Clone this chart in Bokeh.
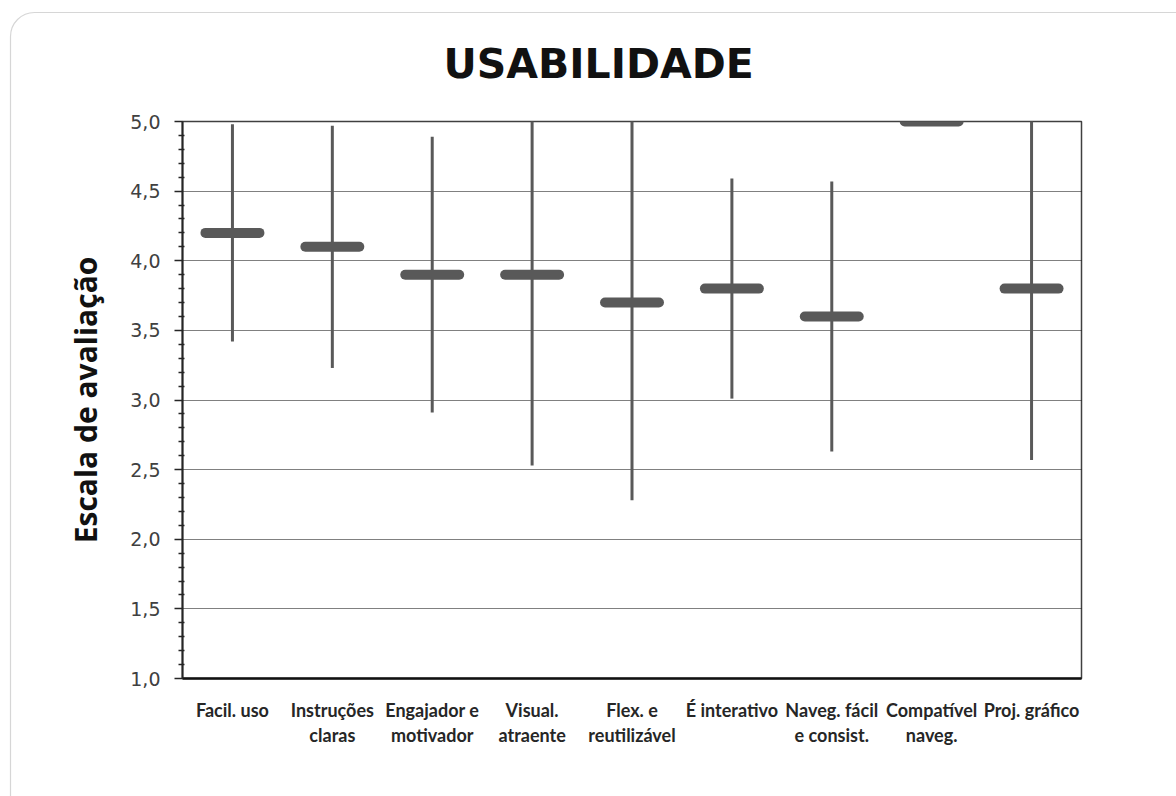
from bokeh.plotting import figure
from bokeh.models import FactorRange, Range1d, FixedTicker, CustomJSTickFormatter, Title, ColumnDataSource
from bokeh.transform import dodge
from bokeh.embed import file_html
from bokeh.resources import INLINE

# ---- data ----
categories = ["Facil. uso", "Instruções\nclaras", "Engajador e\nmotivador", "Visual.\natraente",
              "Flex. e\nreutilizável", "É interativo", "Naveg. fácil\ne consist.", "Compatível\nnaveg.",
              "Proj. gráfico"]
means = [4.2, 4.1, 3.9, 3.9, 3.7, 3.8, 3.6, 5.0, 3.8]
deviations = [0.78, 0.87, 0.99, 1.37, 1.42, 0.79, 0.97, 0.0, 1.23]
y_ticks = [1.0, 1.5, 2.0, 2.5, 3.0, 3.5, 4.0, 4.5, 5.0]
title_text = "USABILIDADE"
y_label = "Escala de avaliação"

lows = [m - d for m, d in zip(means, deviations)]
highs = [m + d for m, d in zip(means, deviations)]
src = ColumnDataSource(dict(cat=categories, mean=means, low=lows, high=highs))

box_svg = ("url(\"data:image/svg+xml;utf8,<svg xmlns='http://www.w3.org/2000/svg' width='1176' height='796'>"
           "<rect x='10.5' y='12.5' width='1240' height='860' rx='24' ry='24' fill='white' "
           "stroke='%23d6d6d6' stroke-width='1.2'/></svg>\") no-repeat, #ffffff")

p = figure(width=1176, height=796, output_backend="svg", toolbar_location=None,
           x_range=FactorRange(factors=categories, range_padding=0),
           y_range=Range1d(1.0, 5.0),
           min_border_left=182, min_border_right=95, min_border_top=121, min_border_bottom=118,
           styles={"background": box_svg})
p.x_range.factor_padding = 0
p.border_fill_color = None
p.background_fill_color = "#ffffff"

p.outline_line_color = "#404040"
p.outline_line_width = 1.5

# title
p.title = Title(text=title_text, align="left", offset=261, standoff=68, vertical_align="bottom",
                text_font="DejaVu Sans", text_font_size="41px", text_font_style="bold",
                text_color="#111111")

# grid
p.xgrid.grid_line_color = None
p.ygrid.grid_line_color = "#000000"
p.ygrid.grid_line_dash = "1 1"
p.ygrid.grid_line_width = 1

# y axis
minor = [round(1 + 0.1 * i, 1) for i in range(41) if i % 5]
p.yaxis.ticker = FixedTicker(ticks=y_ticks, minor_ticks=minor)
p.yaxis.formatter = CustomJSTickFormatter(code="return tick.toFixed(1).replace('.', ',');")
p.yaxis.major_label_text_font = "DejaVu Sans"
p.yaxis.major_label_text_font_size = "19px"
p.yaxis.major_label_text_color = "#404040"
p.yaxis.major_label_standoff = 14
p.yaxis.axis_line_color = "#262626"
p.yaxis.axis_line_width = 2
p.yaxis.major_tick_line_color = "#262626"
p.yaxis.major_tick_line_width = 1.5
p.yaxis.major_tick_out = 8
p.yaxis.major_tick_in = 0
p.yaxis.minor_tick_line_color = "#262626"
p.yaxis.minor_tick_line_width = 1.5
p.yaxis.minor_tick_out = 4
p.yaxis.minor_tick_in = 2
p.yaxis.axis_label = y_label
p.yaxis.axis_label_text_font = "Open Sans"
p.yaxis.axis_label_text_font_size = "30px"
p.yaxis.axis_label_text_font_style = "bold"
p.yaxis.axis_label_text_color = "#111111"
p.yaxis.axis_label_standoff = 21

# x axis
p.xaxis.axis_line_color = "#111111"
p.xaxis.axis_line_width = 2.5
p.xaxis.major_tick_line_color = None
p.xaxis.minor_tick_line_color = None
p.xaxis.major_label_text_font = "Lato"
p.xaxis.major_label_text_font_size = "18px"
p.xaxis.major_label_text_font_style = "bold"
p.xaxis.major_label_text_color = "#262626"
p.xaxis.major_label_text_line_height = 1.15
p.xaxis.major_label_standoff = 14
p.xaxis.major_label_orientation = "horizontal"

# error lines
p.segment(x0="cat", x1="cat", y0="low", y1="high", source=src,
          line_color="#595959", line_width=3)
# mean bars
p.segment(x0=dodge("cat", -0.27, range=p.x_range), x1=dodge("cat", 0.27, range=p.x_range),
          y0="mean", y1="mean", source=src,
          line_color="#595959", line_width=10, line_cap="round")

open("out.html", "w").write(file_html(p, INLINE))
